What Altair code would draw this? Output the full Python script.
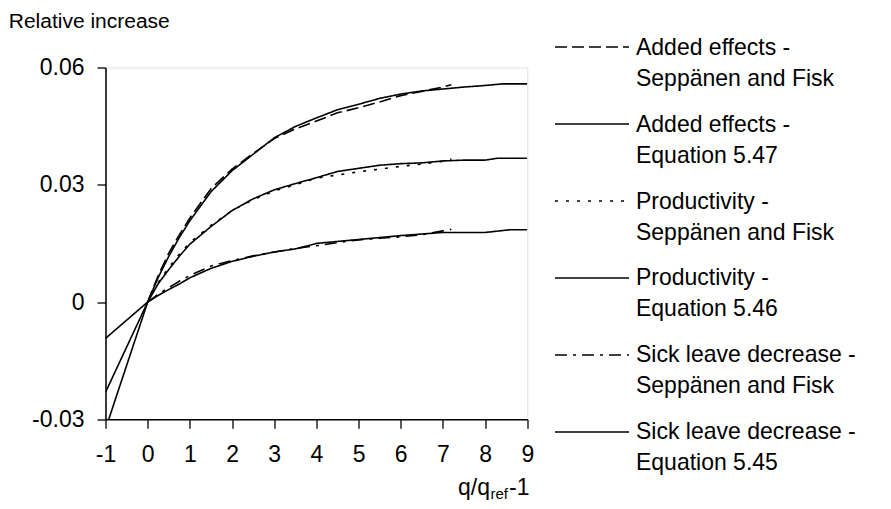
import altair as alt
import pandas as pd

FONT = "Liberation Sans"
FS = 23

# ---------------- data ----------------
series_names = [
    "Added effects - Seppänen and Fisk",
    "Added effects - Equation 5.47",
    "Productivity - Seppänen and Fisk",
    "Productivity - Equation 5.46",
    "Sick leave decrease - Seppänen and Fisk",
    "Sick leave decrease - Equation 5.45",
]
legend_line1 = ["Added effects -", "Added effects -", "Productivity -",
                "Productivity -", "Sick leave decrease -", "Sick leave decrease -"]
legend_line2 = ["Seppänen and Fisk", "Equation 5.47", "Seppänen and Fisk",
                "Equation 5.46", "Seppänen and Fisk", "Equation 5.45"]

x_sf = [0, 0.25, 0.5, 0.75, 1, 1.5, 2, 2.5, 3, 3.5, 4, 4.5, 5, 5.5, 6, 6.5, 7, 7.2]

added_sf = [0, 0.0068, 0.0125, 0.0172, 0.0215, 0.0290, 0.0340, 0.0380, 0.0418,
            0.0443, 0.0463, 0.0484, 0.0497, 0.0512, 0.0528, 0.0539, 0.0550, 0.0556]
x_added_eq = [-1, 0, 0.25, 0.5, 0.75, 1, 1.5, 2, 2.5, 3, 3.5, 4, 4.5, 5, 5.5, 6,
              6.5, 7, 7.5, 8, 8.4, 9]
added_eq = [-0.0325, 0, 0.0063, 0.0117, 0.0165, 0.0208, 0.0282, 0.0336, 0.0378,
            0.0420, 0.0449, 0.0471, 0.0492, 0.0506, 0.0521, 0.0532, 0.0540,
            0.0545, 0.0550, 0.0554, 0.0558, 0.0558]

prod_sf = [0, 0.0050, 0.0088, 0.0122, 0.0152, 0.0196, 0.0234, 0.0262, 0.0284,
           0.0300, 0.0317, 0.0325, 0.0333, 0.0340, 0.0347, 0.0353, 0.0360, 0.0366]
x_prod_eq = [-1, 0, 0.25, 0.5, 0.75, 1, 1.5, 2, 2.5, 3, 3.5, 4, 4.5, 5, 5.5, 6,
             6.5, 7, 7.5, 8, 8.3, 9]
prod_eq = [-0.0231, 0, 0.0047, 0.0083, 0.0117, 0.0148, 0.0193, 0.0234, 0.0264,
           0.0287, 0.0303, 0.0318, 0.0334, 0.0342, 0.0350, 0.0354, 0.0356,
           0.0361, 0.0363, 0.0363, 0.0368, 0.0368]

sick_sf = [0, 0.0020, 0.0037, 0.0053, 0.0068, 0.0092, 0.0106, 0.0118, 0.0128,
           0.0137, 0.0144, 0.0152, 0.0159, 0.0163, 0.0167, 0.0172, 0.0182, 0.0186]
x_sick_eq = [-1, 0, 0.25, 0.5, 0.75, 1, 1.5, 2, 2.5, 3, 3.5, 4, 4.5, 5, 5.5, 6,
             6.5, 7, 7.5, 8, 8.6, 9]
sick_eq = [-0.0093, 0, 0.0017, 0.0032, 0.0046, 0.0062, 0.0086, 0.0104, 0.0117,
           0.0128, 0.0136, 0.0150, 0.0155, 0.0160, 0.0165, 0.0170, 0.0174,
           0.0178, 0.0178, 0.0178, 0.0185, 0.0185]

x_ticks = [-1, 0, 1, 2, 3, 4, 5, 6, 7, 8, 9]
y_ticks = [-0.03, 0, 0.03, 0.06]

# ---------------- styles / layout ----------------
dash_styles = [[12, 5], [1, 0], [3, 8], [1, 0], [12, 6, 3, 6], [1, 0]]

W, H = 421.8, 351.8
PAD_L, PAD_T = 97.5, 59.5
PAD_B = 493 - PAD_T - H  # keep the svg inside the 509px window

xs_list = [x_sf, x_added_eq, x_sf, x_prod_eq, x_sf, x_sick_eq]
ys_list = [added_sf, added_eq, prod_sf, prod_eq, sick_sf, sick_eq]
rows = []
for name, xs, ys in zip(series_names, xs_list, ys_list):
    for xv, yv in zip(xs, ys):
        rows.append({"series": name, "x": xv, "y": yv})
df = pd.DataFrame(rows)

dash_scale = alt.Scale(domain=series_names, range=dash_styles)

lines = alt.Chart(df).mark_line(color="black", strokeWidth=1.6, clip=True).encode(
    x=alt.X("x:Q",
            scale=alt.Scale(domain=[-1, 9], nice=False, zero=False),
            axis=alt.Axis(values=x_ticks, title=None, grid=False,
                          labelExpr="datum.value < 0 ? '-' + abs(datum.value) : '' + datum.value",
                          tickSize=9, labelPadding=15, labelFontSize=FS, labelFont=FONT,
                          labelColor="black", domainColor="black", tickColor="black",
                          domainWidth=1.5, tickWidth=1.3, labelFlush=False)),
    y=alt.Y("y:Q",
            scale=alt.Scale(domain=[-0.03, 0.06], nice=False, zero=False),
            axis=alt.Axis(values=y_ticks, grid=False,
                          labelExpr="datum.value == 0 ? '0' : (datum.value < 0 ? '-' : '') + format(abs(datum.value), '.2f')",
                          tickSize=8.5, labelPadding=13, labelFontSize=FS, labelFont=FONT,
                          labelColor="black", domainColor="black", tickColor="black",
                          domainWidth=1.5, tickWidth=1.3, labelFlush=False,
                          title="Relative increase", titleAngle=0, titleAlign="left",
                          titleBaseline="alphabetic", titleX=-97.2, titleY=-40,
                          titleFont=FONT, titleFontSize=21, titleFontWeight="normal",
                          titleColor="black")),
    strokeDash=alt.StrokeDash("series:N", scale=dash_scale, legend=None),
    detail="series:N",
    order="x:Q",
)

# ---------------- manual legend ----------------
SYM_X0, SYM_X1, TXT_X = 555 - 105.5, 629 - 105.5, 636 - 105.5
SYM_Y0, SYM_DY = 47 - 67.5, 77.0
leg_rows, txt_rows = [], []
for i, name in enumerate(series_names):
    sy = SYM_Y0 + SYM_DY * i
    leg_rows.append({"series": name, "x0": SYM_X0, "x1": SYM_X1, "y": sy})
    txt_rows.append({"text": legend_line1[i], "tx": TXT_X, "ty": sy + 7.5})
    txt_rows.append({"text": legend_line2[i], "tx": TXT_X, "ty": sy + 7.5 + 31})
leg_df = pd.DataFrame(leg_rows)
txt_df = pd.DataFrame(txt_rows)

leg_lines = alt.Chart(leg_df).mark_rule(color="black", strokeWidth=1.6).encode(
    x=alt.X("x0:Q", scale=None, axis=None),
    x2="x1:Q",
    y=alt.Y("y:Q", scale=None, axis=None),
    strokeDash=alt.StrokeDash("series:N", scale=dash_scale, legend=None),
)
leg_text = alt.Chart(txt_df).mark_text(
    align="left", baseline="alphabetic", font=FONT, fontSize=FS, color="black"
).encode(
    x=alt.X("tx:Q", scale=None, axis=None),
    y=alt.Y("ty:Q", scale=None, axis=None),
    text="text:N",
)

# ---------------- x axis title q/q_ref-1 ----------------
title_parts = ["q/q", "ref", "-1"]
base_t = alt.Chart(pd.DataFrame({"a": [0]}))
t1 = base_t.mark_text(align="right", baseline="alphabetic", font=FONT, fontSize=FS,
                      color="black").encode(
    x=alt.value(490 - 105.5), y=alt.value(495.5 - 67.5), text=alt.value(title_parts[0]))
t2 = base_t.mark_text(align="left", baseline="alphabetic", font=FONT, fontSize=15,
                      color="black").encode(
    x=alt.value(490.5 - 105.5), y=alt.value(499.5 - 67.5), text=alt.value(title_parts[1]))
t3 = base_t.mark_text(align="left", baseline="alphabetic", font=FONT, fontSize=FS,
                      color="black").encode(
    x=alt.value(509 - 105.5), y=alt.value(495.5 - 67.5), text=alt.value(title_parts[2]))

chart = alt.layer(lines, leg_lines, leg_text, t1, t2, t3).resolve_scale(
    x="independent", y="independent"
).properties(
    width=W, height=H,
    autosize=alt.AutoSizeParams(type="none"),
    padding={"left": PAD_L, "top": PAD_T, "right": 354, "bottom": PAD_B},
).configure_view(stroke="#8a8a8a", strokeWidth=1.5).configure(background="white")

chart.save("out.html", embed_options={"renderer": "svg", "actions": False})
